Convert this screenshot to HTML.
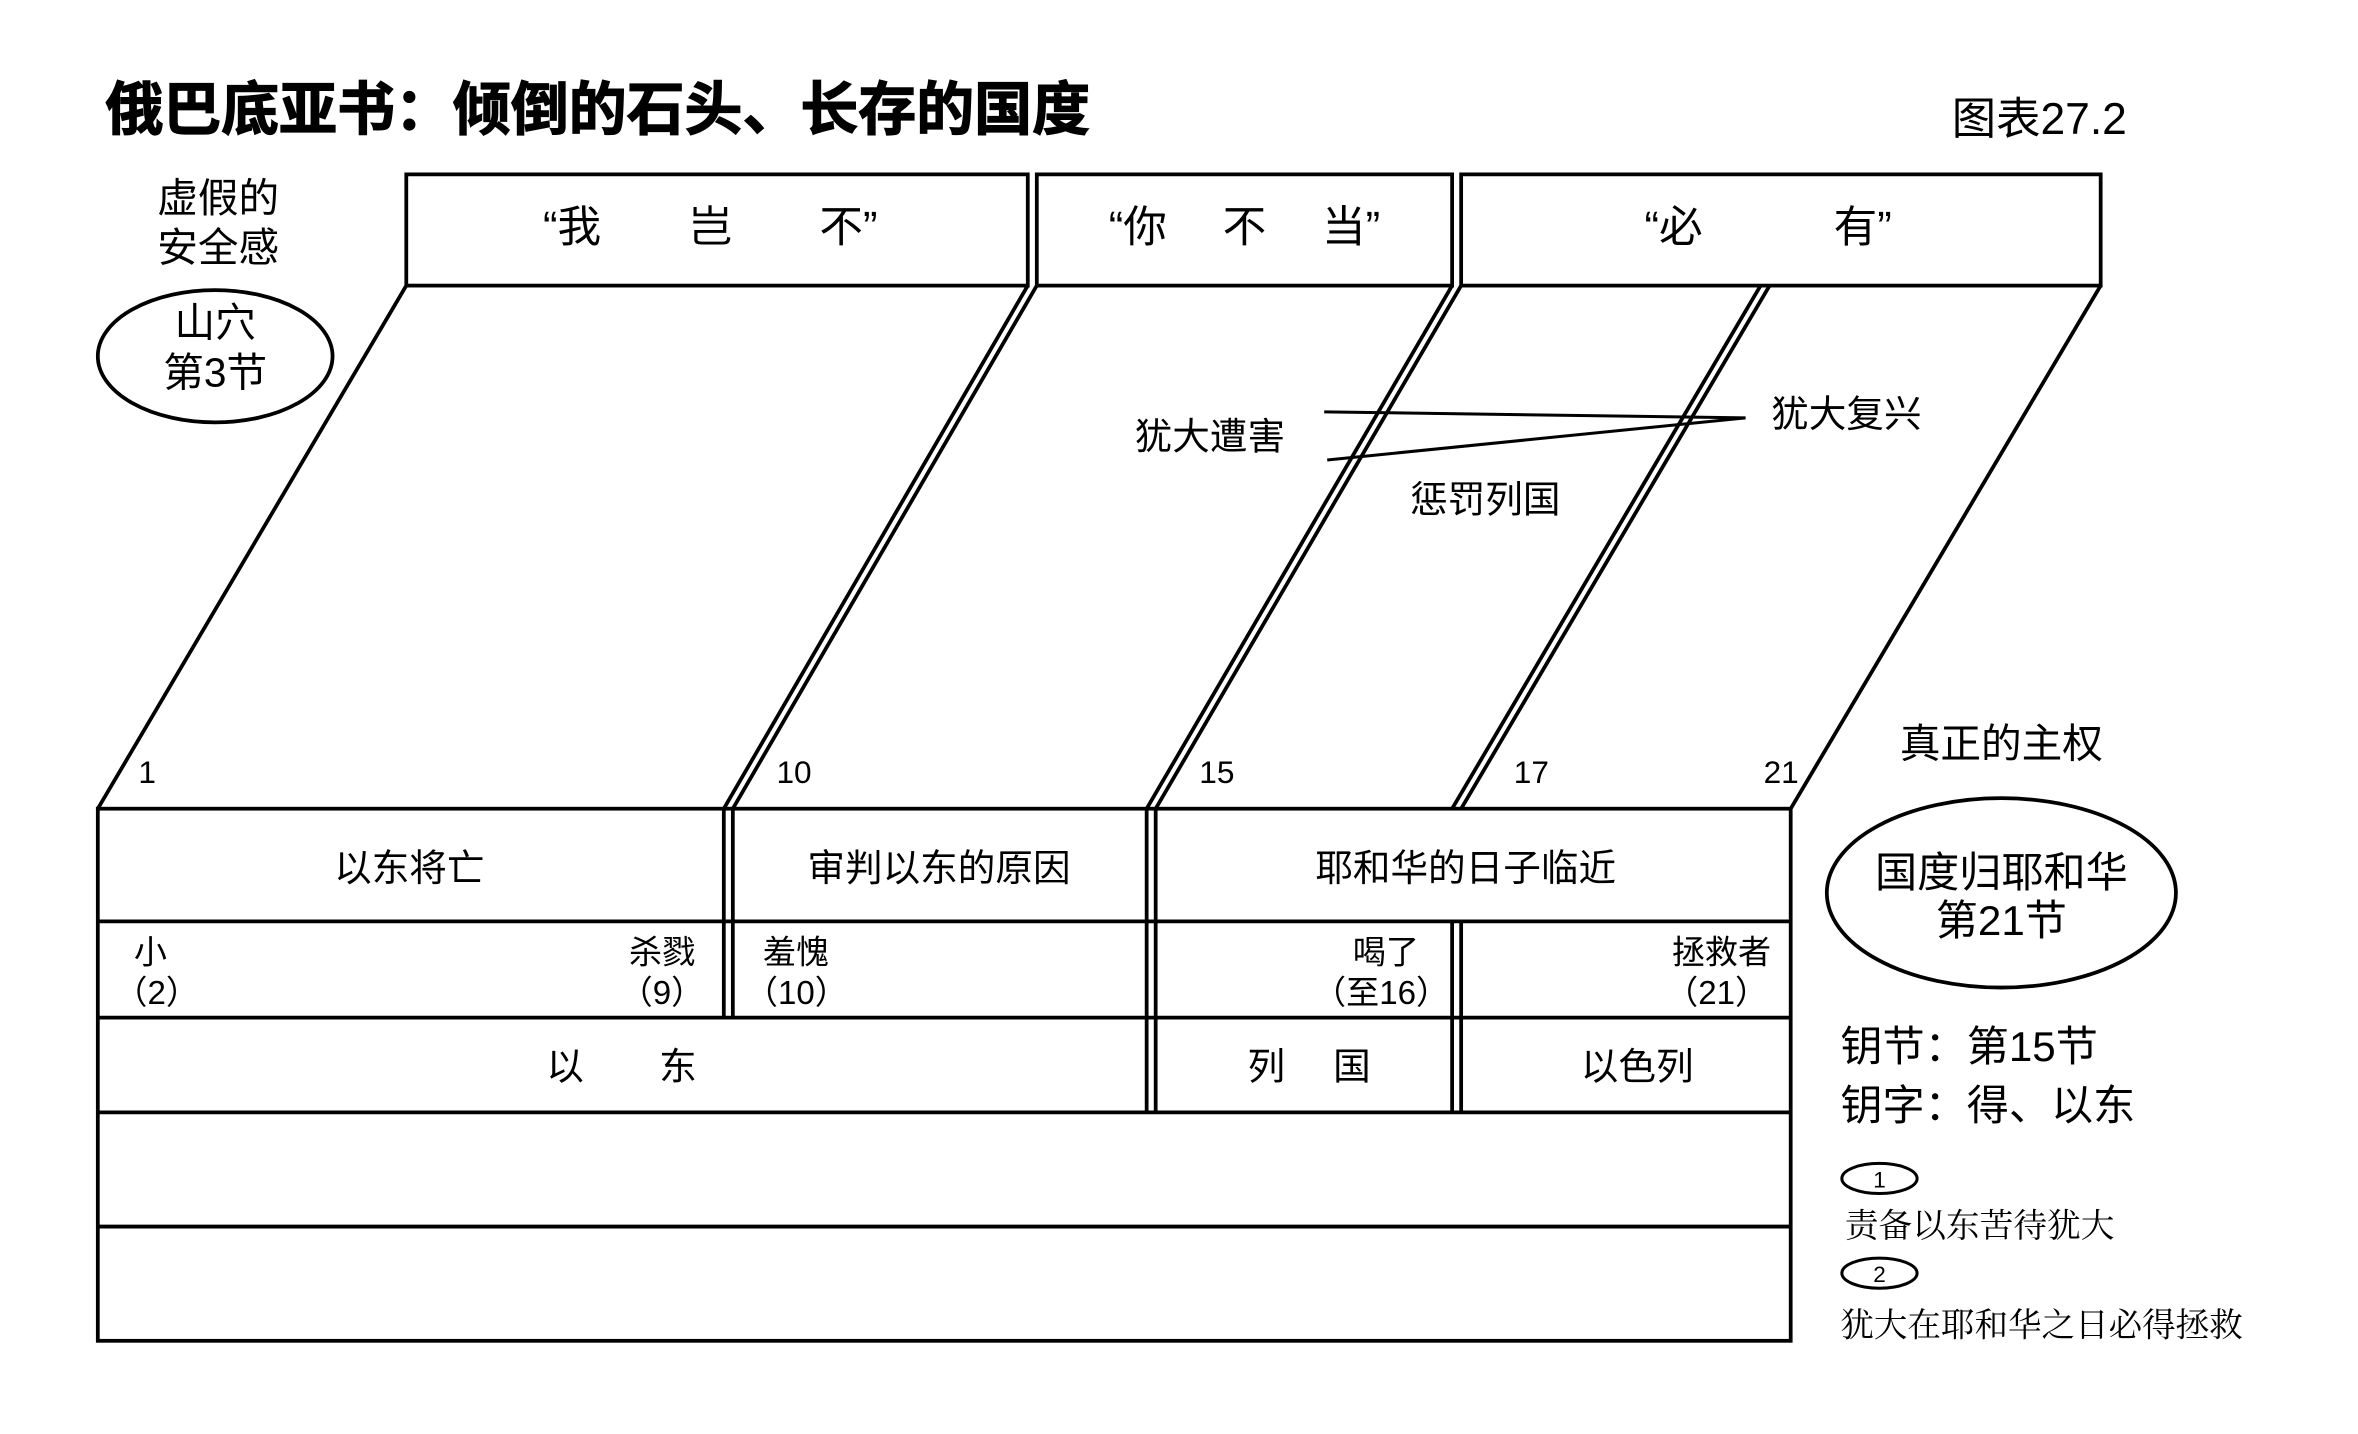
<!DOCTYPE html>
<html><head><meta charset="utf-8"><style>
html,body{margin:0;padding:0;background:#fff;}
svg{display:block;}
text{font-family:"Liberation Sans","Noto Sans CJK SC",sans-serif;fill:#000;}
.k{font-family:"Liberation Serif","Noto Serif CJK SC",serif;}
</style></head><body>
<svg width="2358" height="1434" viewBox="0 0 1567 954" preserveAspectRatio="none" xmlns="http://www.w3.org/2000/svg">
<g fill="none" stroke="#000" stroke-width="2.5">
<rect x="270" y="116" width="413" height="74"/>
<rect x="689" y="116" width="276" height="74"/>
<rect x="971" y="116" width="425" height="74"/>
<line x1="270" y1="190" x2="65" y2="538"/>
<line x1="683" y1="190" x2="481" y2="538"/>
<line x1="689" y1="190" x2="487" y2="538"/>
<line x1="965" y1="190" x2="762" y2="538"/>
<line x1="971" y1="190" x2="768" y2="538"/>
<line x1="1170" y1="190" x2="965" y2="538"/>
<line x1="1176" y1="190" x2="971" y2="538"/>
<line x1="1396" y1="190" x2="1190" y2="538"/>
<line x1="880" y1="274" x2="1160" y2="278" stroke-width="2"/>
<line x1="882" y1="306" x2="1160" y2="278" stroke-width="2"/>
<rect x="65" y="538" width="1125" height="354"/>
<line x1="65" y1="613" x2="1190" y2="613"/>
<line x1="65" y1="677" x2="1190" y2="677"/>
<line x1="65" y1="740" x2="1190" y2="740"/>
<line x1="65" y1="816" x2="1190" y2="816"/>
<line x1="481" y1="538" x2="481" y2="677"/>
<line x1="487" y1="538" x2="487" y2="677"/>
<line x1="762" y1="538" x2="762" y2="740"/>
<line x1="768" y1="538" x2="768" y2="740"/>
<line x1="965" y1="613" x2="965" y2="740"/>
<line x1="971" y1="613" x2="971" y2="740"/>
<ellipse cx="143" cy="237" rx="78" ry="44"/>
<ellipse cx="1330" cy="594" rx="116" ry="63"/>
<ellipse cx="1249" cy="784" rx="25" ry="10" stroke-width="2"/>
<ellipse cx="1249" cy="847" rx="25" ry="10" stroke-width="2"/>
</g>
<text x="70" y="86" font-size="38.5" font-weight="bold" stroke="#000" stroke-width="0.8">俄巴底亚书：倾倒的石头、长存的国度</text>
<text x="1297" y="89" font-size="29.5">图表27.2</text>
<g font-size="27" text-anchor="middle">
<text x="145" y="141">虚假的</text>
<text x="145" y="174">安全感</text>
<text x="143" y="224">山穴</text>
<text x="143" y="257">第3节</text>
</g>
<g font-size="29" text-anchor="middle">
<text x="472" y="161">“我　　岂　　不”</text>
<text x="827" y="161">“你　 不　 当”</text>
<text x="1175" y="161">“必　　　有”</text>
</g>
<g font-size="25" text-anchor="middle">
<text x="804" y="299">犹大遭害</text>
<text x="1227" y="284">犹大复兴</text>
<text x="987" y="341">惩罚列国</text>
</g>
<g font-size="21">
<text x="92" y="521">1</text>
<text x="516" y="521">10</text>
<text x="797" y="521">15</text>
<text x="1006" y="521">17</text>
<text x="1172" y="521">21</text>
</g>
<g font-size="25" text-anchor="middle">
<text x="272" y="586">以东将亡</text>
<text x="624" y="586">审判以东的原因</text>
<text x="974" y="586">耶和华的日子临近</text>
<text x="413" y="718">以　　东</text>
<text x="870" y="718">列　 国</text>
<text x="1088" y="718">以色列</text>
</g>
<g font-size="22">
<text x="89" y="641">小</text>
<text x="76" y="668">（2）</text>
<text x="462" y="641" text-anchor="end">杀戮</text>
<text x="468" y="668" text-anchor="end">（9）</text>
<text x="507" y="641">羞愧</text>
<text x="495" y="668">（10）</text>
<text x="943" y="641" text-anchor="end">喝了</text>
<text x="963" y="668" text-anchor="end">（至16）</text>
<text x="1177" y="641" text-anchor="end">拯救者</text>
<text x="1175" y="668" text-anchor="end">（21）</text>
</g>
<text x="1330" y="504" font-size="27" text-anchor="middle">真正的主权</text>
<text x="1330" y="590" font-size="28" text-anchor="middle">国度归耶和华</text>
<text x="1330" y="622" font-size="28" text-anchor="middle">第21节</text>
<text x="1223" y="706" font-size="28">钥节：第15节</text>
<text x="1223" y="745" font-size="28">钥字：得、以东</text>
<text x="1249" y="790" font-size="15" text-anchor="middle">1</text>
<text x="1249" y="853" font-size="15" text-anchor="middle">2</text>
<text class="k" x="1226" y="823" font-size="22.4">责备以东苦待犹大</text>
<text class="k" x="1223" y="889" font-size="22.3">犹大在耶和华之日必得拯救</text>
</svg>
</body></html>
